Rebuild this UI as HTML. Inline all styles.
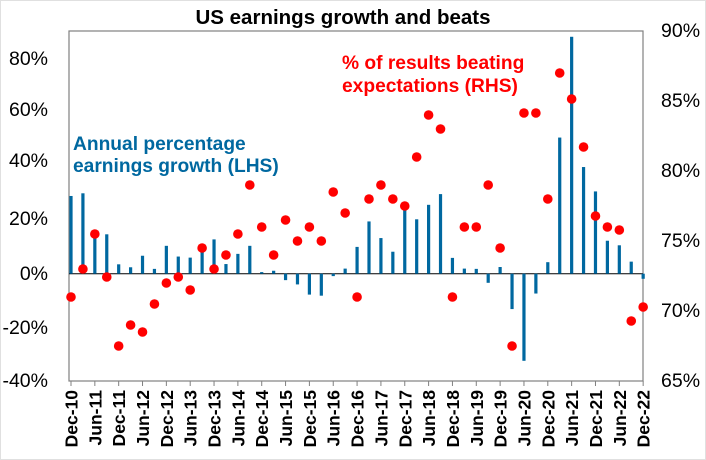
<!DOCTYPE html>
<html><head><meta charset="utf-8"><style>
body{margin:0;background:#fff;}
svg{display:block;font-family:"Liberation Sans",Arial,sans-serif;}
</style></head><body>
<svg width="706" height="460" xmlns="http://www.w3.org/2000/svg">
<rect x="0.5" y="0.5" width="705" height="459" fill="#fff" stroke="#e0e0e0"/>
<text x="343" y="24" font-size="20.5" font-weight="bold" text-anchor="middle">US earnings growth and beats</text>
<rect x="69" y="31" width="574" height="350" fill="none" stroke="#808080" stroke-width="1.2"/>
<g font-size="19.5" text-anchor="end">
<text x="48" y="65">80%</text><text x="48" y="116">60%</text><text x="48" y="167">40%</text>
<text x="48" y="225">20%</text><text x="48" y="280">0%</text><text x="48" y="334">-20%</text><text x="48" y="387">-40%</text>
</g>
<g font-size="19.5">
<text x="661" y="37">90%</text><text x="661" y="107">85%</text><text x="661" y="177">80%</text>
<text x="661" y="247">75%</text><text x="661" y="317">70%</text><text x="661" y="387">65%</text>
</g>
<line x1="69" y1="273.7" x2="643" y2="273.7" stroke="#000" stroke-width="1"/>
<g id="bars" fill="#0068a0"></g>
<g id="ticks" stroke="#808080"></g>
<g id="xl" font-size="17.5" font-weight="bold"></g>
<g id="dots" fill="#ff0000"></g>
<text x="73" y="150" font-size="19.2" font-weight="bold" fill="#0068a0">Annual percentage</text>
<text x="73" y="172" font-size="19.2" font-weight="bold" fill="#0068a0">earnings growth (LHS)</text>
<text x="342" y="69" font-size="19.2" font-weight="bold" fill="#ff0000">% of results beating</text>
<text x="342" y="92" font-size="19.2" font-weight="bold" fill="#ff0000">expectations (RHS)</text>
<script>
var v=[29,30,15,14.7,3.5,2.4,6.7,1.8,10.4,6.4,6,9,12.8,3.6,7.4,10.4,0.6,1.1,-2.4,-4,-7.8,-8.2,-0.9,1.9,10,19.5,13.3,8.2,25.3,20.3,25.7,29.7,5.9,1.9,1.8,-3.4,2.5,-13.2,-32.5,-7.4,4.3,50.8,88.4,39.8,30.7,12.3,10.6,4.5,-1.9];
var d=[297,269,234,277,346,325,332,304,283,277,290,248,269,255,234,185,227,255,220,241,227,241,192,213,297,199,185,199,206,157,115,129,297,227,227,185,248,346,113,113,199,73,99,147,216,227,230,321,307];
var ns="http://www.w3.org/2000/svg",s=2.68,z=273.7;
function el(t,a,p){var e=document.createElementNS(ns,t);for(var k in a)e.setAttribute(k,a[k]);document.getElementById(p).appendChild(e);return e;}
for(var i=0;i<49;i++){var x=71+11.92*i,h=v[i]*s;
el("rect",{x:x-1.6,y:h>0?z-h:z,width:3.2,height:Math.abs(h)},"bars");
el("circle",{cx:x,cy:d[i],r:4.8},"dots");
if(i%2==0){el("line",{x1:x,y1:381,x2:x,y2:386},"ticks");
var k=i/2;var lab=(k%2==0?"Dec-":"Jun-")+(k%2==0?10+k/2:11+(k-1)/2);
var t=el("text",{x:0,y:0,"text-anchor":"end",transform:"translate("+(x+6.5)+",390) rotate(-90)"},"xl");t.textContent=lab;}}
</script>
</svg>
</body></html>
